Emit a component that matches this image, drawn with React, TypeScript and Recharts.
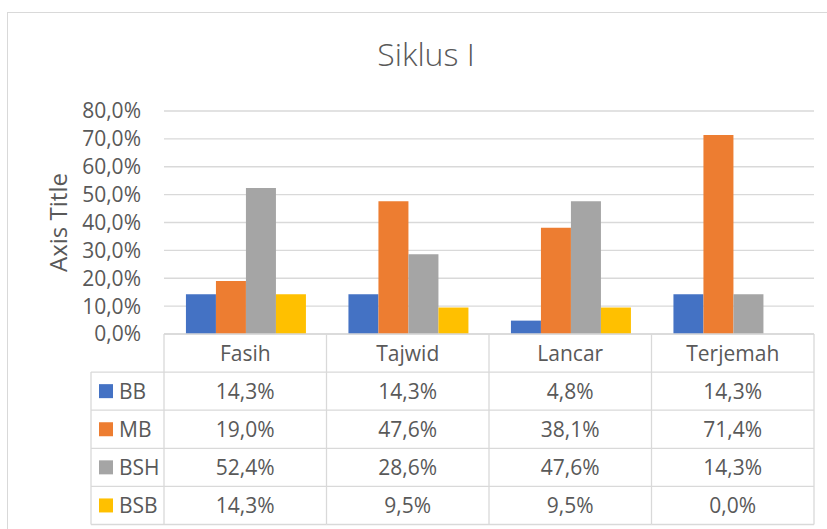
import React from 'react';
import { BarChart, Bar, XAxis, YAxis, CartesianGrid } from 'recharts';

const categories = ['Fasih', 'Tajwid', 'Lancar', 'Terjemah'];
const seriesNames = ['BB', 'MB', 'BSH', 'BSB'];
const bbValues = [0.143, 0.143, 0.048, 0.143];
const mbValues = [0.19, 0.476, 0.381, 0.714];
const bshValues = [0.524, 0.286, 0.476, 0.143];
const bsbValues = [0.143, 0.095, 0.095, 0.0];
const yTicks = [0, 0.1, 0.2, 0.3, 0.4, 0.5, 0.6, 0.7, 0.8];
const chartTitle = 'Siklus I';
const yAxisTitle = 'Axis Title';

const seriesColors = ['#4472C4', '#ED7D31', '#A5A5A5', '#FFC000'];
const seriesValues = [bbValues, mbValues, bshValues, bsbValues];

const data = categories.map((c, i) => ({
  name: c,
  BB: bbValues[i],
  MB: mbValues[i],
  BSH: bshValues[i],
  BSB: bsbValues[i],
}));

const FONT = '"Open Sans", "Noto Sans", "Liberation Sans", sans-serif';
const TEXT = '#595959';
const LINE = '#d9d9d9';
const ROW_H = 38.1;
const LEGEND_W = 73;

const fmt = (v: number) => (v * 100).toFixed(1).replace('.', ',') + '%';

function TableTick(props: any) {
  const { x, y, payload, index } = props;
  const half = payload && typeof payload.offset === 'number' && payload.offset > 0 ? payload.offset : 81.25;
  const left = x - half;
  const right = x + half;
  const last = index === categories.length - 1;
  const parts: React.ReactNode[] = [];
  parts.push(<line key="vl" x1={left} x2={left} y1={y} y2={y + 5 * ROW_H} stroke={LINE} strokeWidth={1.3} />);
  if (last) {
    parts.push(<line key="vr" x1={right} x2={right} y1={y} y2={y + 5 * ROW_H} stroke={LINE} strokeWidth={1.3} />);
  }
  for (let k = 1; k <= 5; k++) {
    parts.push(<line key={'h' + k} x1={left} x2={right} y1={y + k * ROW_H} y2={y + k * ROW_H} stroke={LINE} strokeWidth={1.3} />);
  }
  parts.push(
    <text key="hd" x={x} y={y + ROW_H / 2} dy="0.36em" textAnchor="middle" fill={TEXT} fontSize={21} fontFamily={FONT}>
      {payload.value}
    </text>
  );
  seriesValues.forEach((vals, s) => {
    parts.push(
      <text key={'v' + s} x={x} y={y + ROW_H * (s + 1.5)} dy="0.36em" textAnchor="middle" fill={TEXT} fontSize={21} fontFamily={FONT}>
        {fmt(vals[index])}
      </text>
    );
  });
  if (index === 0) {
    const ll = left - LEGEND_W;
    parts.push(<line key="ll" x1={ll} x2={ll} y1={y + ROW_H} y2={y + 5 * ROW_H} stroke={LINE} strokeWidth={1.3} />);
    for (let k = 1; k <= 5; k++) {
      parts.push(<line key={'lh' + k} x1={ll} x2={left} y1={y + k * ROW_H} y2={y + k * ROW_H} stroke={LINE} strokeWidth={1.3} />);
    }
    seriesNames.forEach((n, s) => {
      const cy = y + ROW_H * (s + 1.5);
      parts.push(<rect key={'ls' + s} x={ll + 8} y={cy - 7} width={14} height={14} fill={seriesColors[s]} />);
      parts.push(
        <text key={'lt' + s} x={ll + 28} y={cy} dy="0.36em" textAnchor="start" fill={TEXT} fontSize={21} fontFamily={FONT}>
          {n}
        </text>
      );
    });
  }
  return <g>{parts}</g>;
}

function AxisTitleLabel(props: any) {
  const vb = props.viewBox || { x: 0, y: 111, width: 164, height: 223 };
  const cx = vb.x + 58.5;
  const cy = vb.y + vb.height / 2;
  return (
    <text x={cx} y={cy} dy="0.36em" textAnchor="middle" transform={`rotate(-90, ${cx}, ${cy})`} fill={TEXT} fontSize={24} fontFamily={FONT}>
      {yAxisTitle}
    </text>
  );
}

export default function App() {
  return (
    <div style={{ position: 'absolute', left: 0, top: 0, width: 827, height: 529, background: '#fff', overflow: 'hidden' }}>
      <div
        style={{
          position: 'absolute',
          left: 6.5,
          top: 11.5,
          width: 840,
          height: 540,
          border: '1.5px solid #d9d9d9',
          boxSizing: 'border-box',
        }}
      />
      <div
        style={{
          position: 'absolute',
          left: 326,
          top: 32,
          width: 200,
          textAlign: 'center',
          fontFamily: FONT,
          fontSize: 32,
          fontWeight: 300,
          color: TEXT,
          lineHeight: '44px',
        }}
      >
        {chartTitle}
      </div>
      <div style={{ position: 'absolute', left: 0, top: 0 }}>
        <BarChart
          width={827}
          height={529}
          data={data}
          margin={{ top: 111, right: 13, bottom: 0, left: 0 }}
          barCategoryGap="13.5%"
          barGap={0}
        >
          <CartesianGrid vertical={false} stroke={LINE} strokeWidth={1.3} />
          <XAxis
            dataKey="name"
            height={195}
            interval={0}
            tickLine={false}
            tickSize={0}
            tickMargin={0}
            axisLine={{ stroke: LINE, strokeWidth: 1.3 }}
            tick={<TableTick />}
          />
          <YAxis
            width={164}
            domain={[0, 0.8]}
            ticks={yTicks}
            interval={0}
            tickFormatter={fmt}
            axisLine={false}
            tickLine={false}
            tickSize={6}
            tickMargin={17}
            tick={{ fill: TEXT, fontSize: 21, fontFamily: FONT }}
            label={<AxisTitleLabel />}
          />
          {seriesNames.map((n, i) => (
            <Bar key={n} dataKey={n} fill={seriesColors[i]} isAnimationActive={false} />
          ))}
        </BarChart>
      </div>
    </div>
  );
}
